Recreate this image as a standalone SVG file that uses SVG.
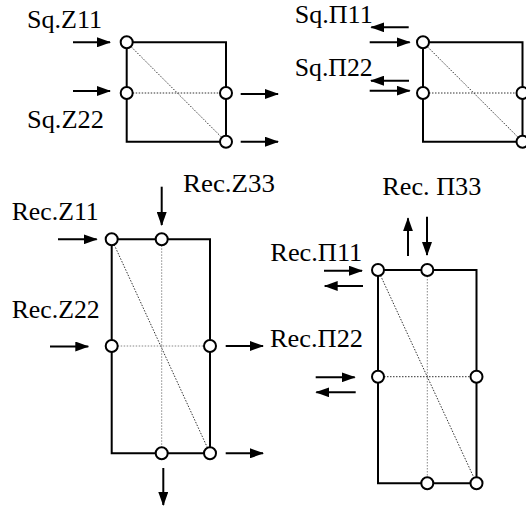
<svg xmlns="http://www.w3.org/2000/svg" width="526" height="506" viewBox="0 0 526 506">
<style>
.frame{fill:none;stroke:#000;stroke-width:2}
.diag{fill:none;stroke:#333;stroke-width:1;stroke-dasharray:1.5 1.5}
.grid{fill:none;stroke:#888;stroke-width:1;stroke-dasharray:1.5 1.5}
.port{fill:#fff;stroke:#000;stroke-width:2}
.arr{fill:none;stroke:#000;stroke-width:2;marker-end:url(#ah)}
.lbl{font-size:25.6px;fill:#000}
</style>
<defs>
<marker id="ah" viewBox="0 0 14 10" refX="13" refY="5" markerWidth="14" markerHeight="10" markerUnits="userSpaceOnUse" orient="auto">
<path d="M0,0 L14,5 L0,10 z" fill="#000"/>
</marker>
</defs>
<rect width="526" height="506" fill="#fff"/>
<g id="sq-z">
<line class="diag" x1="126.7" y1="42.3" x2="226" y2="141.7"/>
<line class="diag" x1="126.7" y1="93" x2="226" y2="93"/>
<path class="frame" d="M126.7,42.3 H226 V141.7 H126.7 Z"/>
<circle class="port" cx="126.7" cy="42.3" r="6"/>
<circle class="port" cx="126.7" cy="93" r="6"/>
<circle class="port" cx="226" cy="93" r="6"/>
<circle class="port" cx="226" cy="141.7" r="6"/>
</g>
<g id="sq-p">
<line class="diag" x1="423" y1="42.3" x2="522.5" y2="141.7"/>
<line class="diag" x1="423" y1="93" x2="522.5" y2="93"/>
<path class="frame" d="M423,42.3 H522.5 V141.7 H423 Z"/>
<circle class="port" cx="423" cy="42.3" r="6"/>
<circle class="port" cx="423" cy="93" r="6"/>
<circle class="port" cx="522.5" cy="93" r="6"/>
<circle class="port" cx="522.5" cy="141.7" r="6"/>
</g>
<g id="rec-z">
<line class="diag" x1="111.7" y1="239.3" x2="210" y2="453.3"/>
<line class="grid" x1="161.7" y1="239.3" x2="161.7" y2="453.3"/>
<line class="grid" x1="111.7" y1="346" x2="210" y2="346"/>
<path class="frame" d="M111.7,239.3 H210 V453.3 H111.7 Z"/>
<circle class="port" cx="111.7" cy="239.3" r="6"/>
<circle class="port" cx="161.7" cy="239.3" r="6"/>
<circle class="port" cx="111.7" cy="346" r="6"/>
<circle class="port" cx="210" cy="346" r="6"/>
<circle class="port" cx="161.7" cy="453.3" r="6"/>
<circle class="port" cx="210" cy="453.3" r="6"/>
</g>
<g id="rec-p">
<line class="diag" x1="378" y1="270" x2="476.5" y2="483.3"/>
<line class="grid" x1="427.3" y1="270" x2="427.3" y2="483.3"/>
<line class="diag" x1="378" y1="376.7" x2="476.5" y2="376.7"/>
<path class="frame" d="M378,270 H476.5 V483.3 H378 Z"/>
<circle class="port" cx="378" cy="270" r="6"/>
<circle class="port" cx="427.3" cy="270" r="6"/>
<circle class="port" cx="378" cy="376.7" r="6"/>
<circle class="port" cx="476.5" cy="376.7" r="6"/>
<circle class="port" cx="427.3" cy="483.3" r="6"/>
<circle class="port" cx="476.5" cy="483.3" r="6"/>
</g>
<g id="connectors">
<line class="arr" x1="73" y1="42.3" x2="110" y2="42.3"/>
<line class="arr" x1="73" y1="91" x2="110" y2="91"/>
<line class="arr" x1="240.7" y1="94" x2="278" y2="94"/>
<line class="arr" x1="240.7" y1="141.7" x2="278" y2="141.7"/>
<line class="arr" x1="408.7" y1="27.3" x2="371.3" y2="27.3"/>
<line class="arr" x1="369.7" y1="42.3" x2="409.7" y2="42.3"/>
<line class="arr" x1="409" y1="80.7" x2="371" y2="80.7"/>
<line class="arr" x1="369.7" y1="90.7" x2="409.7" y2="90.7"/>
<line class="arr" x1="58" y1="239.3" x2="96.7" y2="239.3"/>
<line class="arr" x1="161.7" y1="186.7" x2="161.7" y2="225"/>
<line class="arr" x1="50" y1="346.5" x2="88.3" y2="346.5"/>
<line class="arr" x1="225.7" y1="346" x2="263" y2="346"/>
<line class="arr" x1="225.7" y1="453.3" x2="263" y2="453.3"/>
<line class="arr" x1="163.3" y1="468" x2="163.3" y2="505"/>
<line class="arr" x1="408" y1="256" x2="408" y2="218.3"/>
<line class="arr" x1="427" y1="216.7" x2="427" y2="255"/>
<line class="arr" x1="324" y1="270.7" x2="362" y2="270.7"/>
<line class="arr" x1="363" y1="286" x2="324.7" y2="286"/>
<line class="arr" x1="315.7" y1="377.3" x2="354.7" y2="377.3"/>
<line class="arr" x1="355.7" y1="392.3" x2="316.3" y2="392.3"/>
</g>
<g id="labels" class="lbl" font-family="'Liberation Serif', 'Times New Roman', serif">
<text x="27" y="27.7" textLength="75" lengthAdjust="spacingAndGlyphs">Sq.Z11</text>
<text x="27" y="127.7" textLength="77" lengthAdjust="spacingAndGlyphs">Sq.Z22</text>
<text x="294.7" y="22.7" textLength="78" lengthAdjust="spacingAndGlyphs">Sq.П11</text>
<text x="294.7" y="76" textLength="78" lengthAdjust="spacingAndGlyphs">Sq.П22</text>
<text x="11.7" y="220" textLength="87" lengthAdjust="spacingAndGlyphs">Rec.Z11</text>
<text x="11.7" y="318.3" textLength="88" lengthAdjust="spacingAndGlyphs">Rec.Z22</text>
<text x="183" y="192.3" textLength="92" lengthAdjust="spacingAndGlyphs">Rec.Z33</text>
<text x="382.3" y="195" textLength="99" lengthAdjust="spacingAndGlyphs">Rec. П33</text>
<text x="270.3" y="261" textLength="92" lengthAdjust="spacingAndGlyphs">Rec.П11</text>
<text x="270" y="347" textLength="93" lengthAdjust="spacingAndGlyphs">Rec.П22</text>
</g>
</svg>
